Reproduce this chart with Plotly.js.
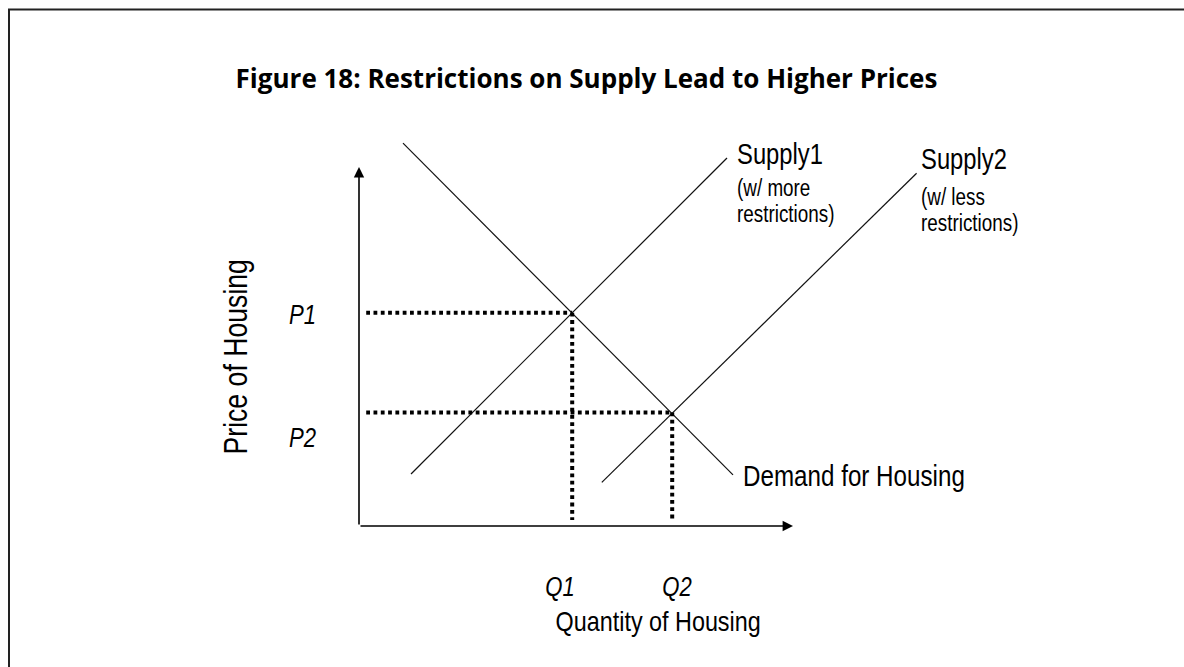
<!DOCTYPE html>
<html>
<head>
<meta charset="utf-8">
<script src="https://cdn.plot.ly/plotly-3.0.1.min.js"></script>
<style>
  html, body { margin: 0; padding: 0; background: #fff; }
  #chart { width: 1184px; height: 667px; }
</style>
</head>
<body>
<div id="chart"></div>
<script>
// ---- Data (abstract units) ----
const demandQ  = [1.1, 9.35];
const demandP  = [9.57, 1.28];
const supply1Q = [1.3, 9.2];
const supply1P = [1.3, 9.2];
const supply2Q = [6.07, 13.94];
const supply2P = [1.09, 8.82];
const eqQ = [5.33, 7.83];          // Q1, Q2
const eqP = [5.33, 2.84];          // P1, P2
const priceLabels = ['P1', 'P2'];
const quantityLabels = ['Q1', 'Q2'];
const axisQMax = 10.85;
const axisPMax = 8.975;

// ---- Styling ----
const narrow = '"Liberation Sans", Arial, sans-serif';
const lineCol = '#111';
const guideGapQ = 0.18, guideGapP = 0.15;

const traces = [];
traces.push({x: demandQ, y: demandP, mode: 'lines', line: {color: lineCol, width: 1.2}, hoverinfo: 'skip'});
traces.push({x: supply1Q, y: supply1P, mode: 'lines', line: {color: lineCol, width: 1.2}, hoverinfo: 'skip'});
traces.push({x: supply2Q, y: supply2P, mode: 'lines', line: {color: lineCol, width: 1.2}, hoverinfo: 'skip'});

for (let i = 0; i < eqQ.length; i++) {
  traces.push({x: [guideGapQ, eqQ[i]], y: [eqP[i], eqP[i]], mode: 'lines',
    line: {color: '#000', width: 4, dash: '3.8px,3.5px'}, hoverinfo: 'skip'});
  traces.push({x: [eqQ[i], eqQ[i]], y: [eqP[i], guideGapP], mode: 'lines',
    line: {color: '#000', width: 4, dash: '3.8px,3.5px'}, hoverinfo: 'skip'});
}

const W = 1184, H = 667, ox = 359, oy = 526, s = 40;

const annotations = [
  // axes with arrowheads
  {x: 0, y: axisPMax, ax: 0, ay: 0, xref: 'x', yref: 'y', axref: 'x', ayref: 'y', text: '',
   showarrow: true, arrowhead: 2, arrowsize: 1.3, arrowwidth: 1.6, arrowcolor: '#000', standoff: 0, startstandoff: 0},
  {x: axisQMax, y: 0, ax: 0, ay: 0, xref: 'x', yref: 'y', axref: 'x', ayref: 'y', text: '',
   showarrow: true, arrowhead: 2, arrowsize: 1.3, arrowwidth: 1.6, arrowcolor: '#000', standoff: 0, startstandoff: 0},
  // curve labels
  {x: 9.4, y: 9.3, xref: 'x', yref: 'y', text: 'Supply1', showarrow: false, xanchor: 'left', yanchor: 'middle',
   font: {family: narrow, size: 29, color: '#000'}},
  {x: 9.4, y: 8.45, xref: 'x', yref: 'y', text: '(w/ more', showarrow: false, xanchor: 'left', yanchor: 'middle',
   font: {family: narrow, size: 23, color: '#000'}},
  {x: 9.4, y: 7.8, xref: 'x', yref: 'y', text: 'restrictions)', showarrow: false, xanchor: 'left', yanchor: 'middle',
   font: {family: narrow, size: 23, color: '#000'}},
  {x: 14.0, y: 9.175, xref: 'x', yref: 'y', text: 'Supply2', showarrow: false, xanchor: 'left', yanchor: 'middle',
   font: {family: narrow, size: 29, color: '#000'}},
  {x: 14.0, y: 8.225, xref: 'x', yref: 'y', text: '(w/ less', showarrow: false, xanchor: 'left', yanchor: 'middle',
   font: {family: narrow, size: 23, color: '#000'}},
  {x: 14.0, y: 7.575, xref: 'x', yref: 'y', text: 'restrictions)', showarrow: false, xanchor: 'left', yanchor: 'middle',
   font: {family: narrow, size: 23, color: '#000'}},
  {x: 9.55, y: 1.275, xref: 'x', yref: 'y', text: 'Demand for Housing', showarrow: false, xanchor: 'left', yanchor: 'middle',
   font: {family: narrow, size: 29.5, color: '#000'}},
  // axis titles
  {x: 7.475, y: -2.38, xref: 'x', yref: 'y', text: 'Quantity of Housing', showarrow: false, xanchor: 'center', yanchor: 'middle',
   font: {family: narrow, size: 28.5, color: '#000'}},
  {x: -3.075, y: 4.225, xref: 'x', yref: 'y', text: 'Price of Housing', showarrow: false, xanchor: 'center', yanchor: 'middle',
   textangle: -90, font: {family: narrow, size: 32.5, color: '#000'}}
];
for (let i = 0; i < priceLabels.length; i++) {
  annotations.push({x: -1.425, y: eqP[i] - (i === 0 ? 0.06 : 0.64), xref: 'x', yref: 'y', text: '<i>' + priceLabels[i] + '</i>',
    showarrow: false, xanchor: 'center', yanchor: 'middle', font: {family: narrow, size: 27, color: '#000'}});
}
for (let i = 0; i < quantityLabels.length; i++) {
  annotations.push({x: eqQ[i] - (i === 0 ? 0.3 : -0.12), y: -1.525, xref: 'x', yref: 'y', text: '<i>' + quantityLabels[i] + '</i>',
    showarrow: false, xanchor: 'center', yanchor: 'middle', font: {family: narrow, size: 27, color: '#000'}});
}

const layout = {
  width: W, height: H,
  margin: {l: 0, r: 0, t: 0, b: 0, pad: 0},
  paper_bgcolor: '#fff', plot_bgcolor: '#fff',
  showlegend: false,
  title: {text: '<b>Figure 18: Restrictions on Supply Lead to Higher Prices</b>',
          font: {family: '"Open Sans", sans-serif', size: 26, color: '#000'},
          x: 586.5 / W, xanchor: 'center', xref: 'paper', y: 1 - 79 / H, yanchor: 'middle', yref: 'container'},
  xaxis: {range: [-ox / s, (W - ox) / s], visible: false, fixedrange: true},
  yaxis: {range: [(oy - H) / s, oy / s], visible: false, fixedrange: true},
  shapes: [
    {type: 'rect', xref: 'paper', yref: 'paper', x0: 9 / W, x1: 1.05, y0: -0.05, y1: 1 - 9.5 / H,
     line: {color: '#222', width: 2}, fillcolor: 'rgba(0,0,0,0)', layer: 'below'}
  ],
  annotations: annotations
};

Plotly.newPlot('chart', traces, layout, {displayModeBar: false, staticPlot: true}).then(function () {
  // condense label text horizontally (narrow-font look, text stays real text)
  document.querySelectorAll('g.annotation').forEach(function (g) {
    const i = +g.getAttribute('data-index');
    const t = g.querySelector('text.annotation-text');
    if (!t || !t.textContent || !annotations[i]) return;
    t.style.transformBox = 'fill-box';
    t.style.transformOrigin = annotations[i].xanchor === 'left' ? 'left center' : 'center';
    t.style.transform = 'scaleX(0.82)';
  });
});
</script>
</body>
</html>
